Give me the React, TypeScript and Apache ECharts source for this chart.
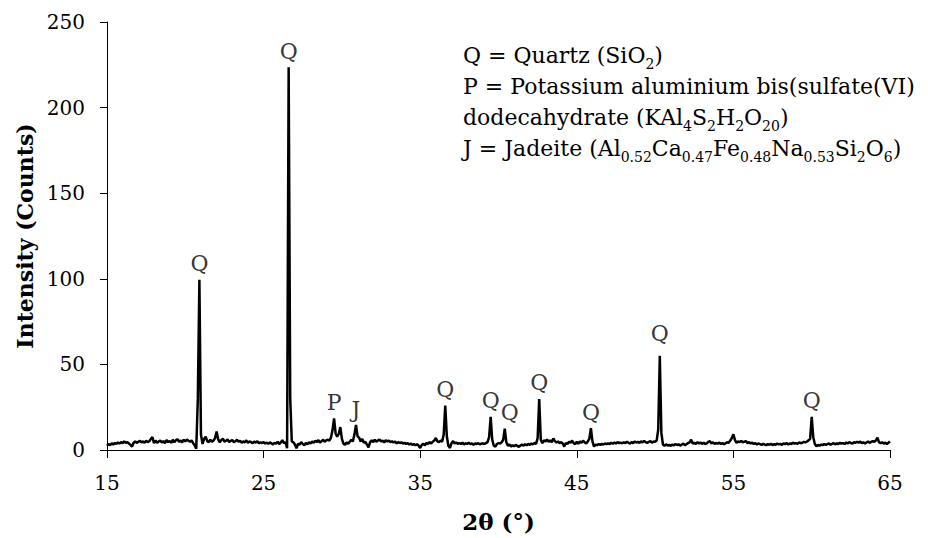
import React, { useEffect, useRef } from 'react';
import * as echarts from 'echarts';

// 2θ scan: start, step and measured intensity (counts)
const twoThetaStart = 15;
const twoThetaStep = 0.1;
const intensity: number[] = [
  2.5, 3.5, 2.8, 3.9, 3.2, 4.1, 3.6, 4.4, 3.8, 4.6,
  4.0, 5.1, 4.2, 4.6, 3.8, 3.0, 2.0, 4.2, 5.0, 4.1,
  4.8, 5.3, 4.5, 5.0, 4.2, 5.4, 4.6, 5.1, 6.5, 7.5,
  4.0, 5.5, 4.3, 4.9, 5.6, 4.4, 5.2, 4.0, 5.8, 4.6,
  5.3, 4.2, 6.0, 4.5, 5.7, 6.3, 4.8, 5.5, 4.4, 6.0,
  5.0, 6.2, 5.4, 4.8, 5.6, 4.0, 2.6, 0.8, 30.0, 99.5,
  9.0, 3.5, 6.5, 7.8, 5.2, 4.6, 6.0, 4.8, 5.5, 7.0,
  10.8, 6.2, 4.5, 5.8, 6.6, 4.9, 5.4, 6.1, 4.7, 5.3,
  5.8, 4.6, 5.1, 6.0, 4.8, 5.4, 4.3, 5.0, 4.5, 5.6,
  4.2, 5.0, 4.6, 4.0, 4.9, 4.3, 5.2, 3.9, 4.5, 4.1,
  4.6, 3.8, 4.3, 3.6, 4.4, 3.9, 3.3, 4.2, 3.7, 4.8,
  3.5, 4.4, 5.8, 3.9, 4.6, 1.0, 223.5, 30.0, 5.0, 4.5,
  3.2, 1.0, 3.5, 3.2, 4.6, 3.5, 2.8, 4.2, 3.3, 4.5,
  3.8, 4.9, 4.2, 5.4, 4.6, 5.8, 4.4, 5.2, 6.0, 4.8,
  5.6, 6.0, 5.4, 7.2, 11.5, 18.5, 9.5, 7.8, 9.5, 13.4,
  6.5, 3.8, 3.0, 4.5, 3.6, 4.8, 6.0, 5.0, 9.0, 14.6,
  8.0, 7.2, 5.0, 6.5, 4.2, 4.8, 3.2, 1.5, 4.5, 5.6,
  4.6, 6.0, 4.8, 5.5, 6.2, 4.9, 5.6, 4.3, 5.8, 5.0,
  5.4, 4.6, 5.1, 4.4, 4.9, 3.9, 4.6, 4.1, 4.5, 3.7,
  4.2, 3.6, 4.0, 3.2, 3.8, 3.0, 3.5, 2.7, 3.4, 2.5,
  1.2, 3.0, 3.6, 2.8, 4.2, 3.5, 4.6, 3.8, 4.8, 5.5,
  7.0, 5.0, 4.6, 5.5, 4.8, 9.0, 26.0, 8.0, 2.5, 1.2,
  4.0, 5.2, 3.8, 4.4, 3.6, 4.1, 3.5, 4.3, 3.2, 3.9,
  3.6, 4.2, 3.4, 3.9, 3.1, 3.8, 3.5, 4.0, 3.3, 3.7,
  3.9, 3.5, 4.0, 4.6, 7.5, 19.3, 6.0, 2.5, 2.0, 3.5,
  4.0, 3.8, 4.5, 6.0, 12.5, 4.5, 2.5, 3.2, 2.0, 2.8,
  2.2, 3.0, 2.4, 1.8, 2.6, 3.2, 2.5, 3.4, 2.8, 3.6,
  3.0, 3.8, 3.2, 4.2, 3.6, 7.0, 29.8, 6.0, 4.0, 5.6,
  5.0, 6.2, 4.8, 5.6, 4.5, 6.8, 5.2, 4.4, 5.0, 4.0,
  4.6, 3.8, 2.0, 4.1, 3.5, 4.8, 4.2, 5.5, 4.0, 3.4,
  4.8, 3.6, 5.0, 4.2, 5.4, 4.5, 3.8, 5.0, 6.5, 12.8,
  5.0, 2.0, 3.2, 2.8, 3.5, 3.0, 3.6, 3.2, 3.8, 3.4,
  3.9, 3.5, 4.2, 3.7, 4.4, 3.8, 4.6, 4.0, 4.3, 3.9,
  4.5, 4.1, 4.8, 4.2, 3.8, 4.6, 4.0, 5.0, 4.4, 4.7,
  4.2, 5.0, 4.5, 5.3, 4.6, 4.1, 4.8, 5.2, 4.3, 4.9,
  4.8, 5.5, 12.0, 55.0, 10.0, 3.2, 2.4, 3.3, 2.6, 3.0,
  2.4, 3.2, 2.7, 3.5, 2.9, 3.3, 2.6, 3.1, 3.7, 2.8,
  3.4, 4.0, 4.5, 6.0, 3.8, 4.2, 3.5, 4.6, 3.8, 4.4,
  3.6, 4.2, 3.5, 3.9, 4.8, 5.2, 3.8, 4.5, 3.6, 4.1,
  3.7, 4.3, 3.5, 4.0, 3.4, 3.9, 4.5, 4.2, 5.5, 7.0,
  9.2, 5.8, 4.2, 5.0, 4.6, 5.3, 4.4, 4.9, 5.2, 4.0,
  4.6, 3.8, 4.3, 3.5, 4.0, 3.2, 3.8, 3.4, 3.0, 3.6,
  3.2, 2.8, 3.5, 3.0, 3.7, 2.9, 3.4, 3.1, 3.8, 3.3,
  3.6, 3.0, 3.9, 3.4, 4.1, 3.2, 3.8, 3.5, 4.3, 3.7,
  4.0, 3.6, 4.5, 3.9, 4.2, 4.8, 4.4, 5.0, 5.6, 6.5,
  19.3, 7.5, 3.5, 2.2, 3.0, 2.5, 3.2, 2.8, 3.5, 3.0,
  3.4, 3.8, 3.1, 3.6, 4.0, 3.3, 3.9, 3.5, 4.2, 3.7,
  4.0, 3.5, 4.4, 3.8, 4.6, 4.1, 3.7, 4.5, 4.2, 4.8,
  4.3, 4.9, 4.0, 4.5, 3.8, 4.4, 5.0, 4.2, 4.7, 5.2,
  4.8, 5.6, 7.2, 4.5, 3.9, 4.6, 3.7, 4.3, 3.5, 4.2,
  5.0,
];

// Identified peaks: 2θ position and phase letter
const peakPositions = [20.9, 26.6, 29.5, 30.9, 36.6, 39.5, 40.4, 42.6, 45.9, 50.3, 60.0];
const peakPhases = ['Q', 'Q', 'P', 'J', 'Q', 'Q', 'Q', 'Q', 'Q', 'Q', 'Q'];

// Axis ranges / ticks
const xMin = 15;
const xMax = 65;
const xInterval = 10;
const yMin = 0;
const yMax = 250;
const yInterval = 50;

const FONT = 'DejaVu Serif';

const legendText =
  '{n|Q = Quartz (SiO}{s|2}{n|)}\n' +
  '{n|P = Potassium aluminium bis(sulfate(VI)}\n' +
  '{n|dodecahydrate (KAl}{s|4}{n|S}{s|2}{n|H}{s|2}{n|O}{s|20}{n|)}\n' +
  '{n|J = Jadeite (Al}{s|0.52}{n|Ca}{s|0.47}{n|Fe}{s|0.48}{n|Na}{s|0.53}{n|Si}{s|2}{n|O}{s|6}{n|)}';

export default function App() {
  const ref = useRef<HTMLDivElement>(null);

  useEffect(() => {
    if (!ref.current) return;
    const chart = echarts.init(ref.current, null, { renderer: 'svg' });

    const lineData = intensity.map((v, i) => [
      Number((twoThetaStart + i * twoThetaStep).toFixed(1)),
      v,
    ]);
    const peakData = peakPositions.map((x, k) => {
      const idx = Math.round((x - twoThetaStart) / twoThetaStep);
      const item: any = { name: peakPhases[k], value: [x, intensity[idx]] };
      if (x === 40.4) item.label = { offset: [5, 0] };
      if (x === 50.3) item.label = { offset: [0, -6] };
      return item;
    });

    chart.setOption({
      animation: false,
      textStyle: { fontFamily: FONT },
      grid: {
        left: 107,
        right: 38,
        top: 22,
        bottom: 88,
        containLabel: false,
        outerBoundsMode: 'none',
      },
      xAxis: {
        type: 'value',
        min: xMin,
        max: xMax,
        interval: xInterval,
        name: '2θ (°)',
        nameLocation: 'middle',
        nameGap: 60,
        nameTextStyle: { fontFamily: FONT, fontSize: 23, fontWeight: 'bold', color: '#000' },
        axisLine: { lineStyle: { color: '#000', width: 1 } },
        axisTick: { show: true, inside: false, length: 8, lineStyle: { color: '#000' } },
        axisLabel: { fontFamily: FONT, fontSize: 20, color: '#000', margin: 23 },
        splitLine: { show: false },
      },
      yAxis: {
        type: 'value',
        min: yMin,
        max: yMax,
        interval: yInterval,
        name: 'Intensity (Counts)',
        nameLocation: 'middle',
        nameGap: 71,
        nameRotate: 90,
        nameTextStyle: { fontFamily: FONT, fontSize: 22, fontWeight: 'bold', color: '#000' },
        axisLine: { show: true, lineStyle: { color: '#000', width: 1 } },
        axisTick: { show: true, inside: false, length: 7, lineStyle: { color: '#000' } },
        axisLabel: { fontFamily: FONT, fontSize: 20, color: '#000', margin: 22 },
        splitLine: { show: false },
      },
      series: [
        {
          type: 'line',
          data: lineData,
          showSymbol: false,
          symbol: 'none',
          lineStyle: { color: '#000', width: 2.5 },
          silent: true,
          z: 2,
        },
        {
          type: 'scatter',
          data: peakData,
          symbolSize: 0,
          silent: true,
          z: 3,
          label: {
            show: true,
            position: 'top',
            distance: 5,
            formatter: '{b}',
            fontFamily: FONT,
            fontSize: 22,
            color: '#000',
          },
        },
      ],
      graphic: [
        {
          type: 'text',
          left: 463,
          top: 44,
          silent: true,
          style: {
            text: legendText,
            fill: '#000',
            font: `22px "${FONT}"`,
            rich: {
              n: { fontFamily: FONT, fontSize: 22, lineHeight: 31, fill: '#000' },
              s: { fontFamily: FONT, fontSize: 14, lineHeight: 20, fill: '#000', verticalAlign: 'bottom' },
            },
          },
        },
      ],
    });

    return () => chart.dispose();
  }, []);

  return (
    <div
      ref={ref}
      style={{ position: 'fixed', left: 0, top: 0, width: 928, height: 538, background: '#fff' }}
    />
  );
}
